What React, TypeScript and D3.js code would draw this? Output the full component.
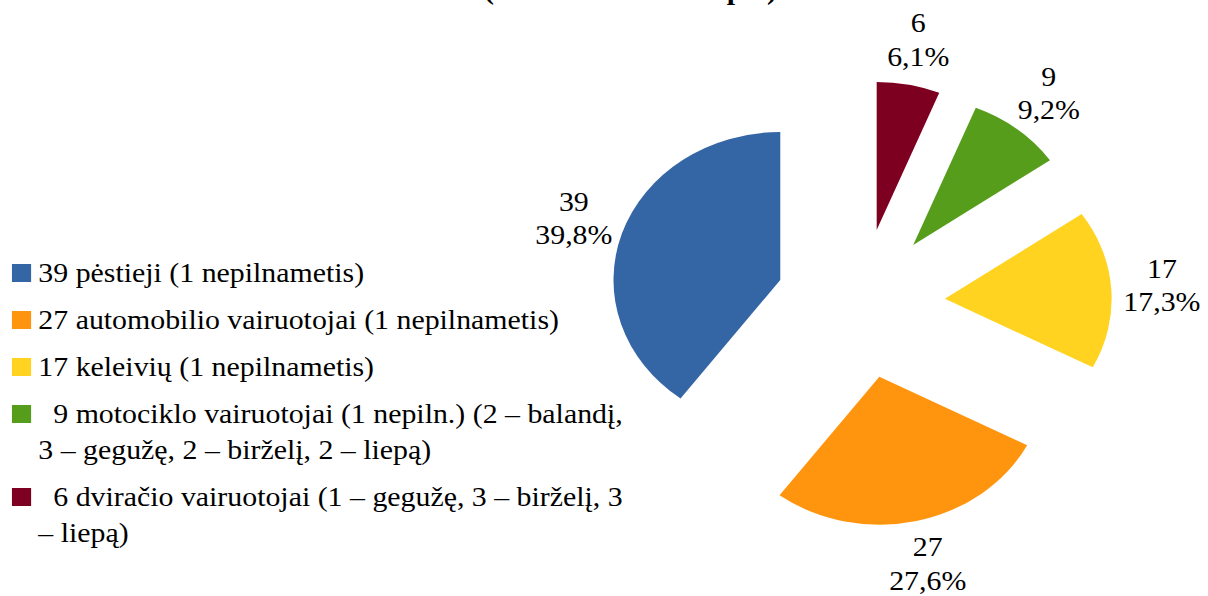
import React from 'react';
import * as d3 from 'd3';

// chart data (legend order)
const values = [39, 27, 17, 9, 6];
const colors = ['#3465A4', '#FF950E', '#FFD320', '#579D1C', '#7E0021'];
const legendLines = [
  ['39 pėstieji (1 nepilnametis)'],
  ['27 automobilio vairuotojai (1 nepilnametis)'],
  ['17 keleivių (1 nepilnametis)'],
  ['  9 motociklo vairuotojai (1 nepiln.) (2 – balandį,', '3 – gegužę, 2 – birželį, 2 – liepą)'],
  ['  6 dviračio vairuotojai (1 – gegužę, 3 – birželį, 3', '– liepą)'],
];
const titleText = '(balandis – liepa)';

const width = 1208;
const height = 596;
const stretchX = 1.127; // the whole picture is a bit wider than tall
const textStyle: React.CSSProperties = { fontFamily: "'Liberation Serif'", whiteSpace: 'pre' };

const App: React.FC = () => {
  const total = d3.sum(values);
  const fmtPct = (v: number) => ((v / total) * 100).toFixed(1).replace('.', ',') + '%';

  // pie
  const cx = 860.5 / stretchX;
  const cy = 303.6;
  const radius = 148;
  const explode = 75;
  const labelRadius = 268;

  const pie = d3.pie<number>()
    .value(i => values[i])
    .sort((a, b) => values[a] - values[b]);
  const arcs = pie(values.map((_, i) => i));
  const arc = d3.arc<d3.PieArcDatum<number>>().innerRadius(0).outerRadius(radius);
  const labelArc = d3.arc<d3.PieArcDatum<number>>().innerRadius(labelRadius).outerRadius(labelRadius);

  const mid = (a: d3.PieArcDatum<number>) => (a.startAngle + a.endAngle) / 2;

  // legend
  const legendX = 10.6;
  const textX = 34;
  const firstBaseline = 282;
  const entryGap = 47;
  const lineGap = 36;
  let y = firstBaseline;
  const legendRows = legendLines.map((lines, i) => {
    const row = { i, lines, y };
    y += entryGap + (lines.length - 1) * lineGap;
    return row;
  });

  return (
    <svg width={width} height={height}
      style={{ position: 'absolute', left: 0, top: 0, background: '#fff' }}>
      <g transform={`scale(${stretchX},1)`}>
        {/* second title line, mostly above the top edge */}
        <text x={559.5} y={-1.5} textAnchor="middle" fontWeight="bold" fontSize={26.5}
          textLength={260} lengthAdjust="spacing" style={textStyle}>{titleText}</text>

        <g transform={`translate(${cx},${cy})`}>
          {arcs.map(a => {
            const m = mid(a);
            const dx = explode * Math.sin(m);
            const dy = -explode * Math.cos(m);
            return (
              <path key={a.data} d={arc(a) || ''} fill={colors[a.data]}
                transform={`translate(${dx},${dy})`} />
            );
          })}
          {arcs.map(a => {
            const [lx, ly] = labelArc.centroid(a);
            return (
              <text key={'l' + a.data} x={lx} textAnchor="middle" fontSize={26.5} fill="#000" style={textStyle}>
                <tspan x={lx} y={ly - 8.5}>{values[a.data]}</tspan>
                <tspan x={lx} y={ly + 25}>{fmtPct(values[a.data])}</tspan>
              </text>
            );
          })}
        </g>

        <g>
          {legendRows.map(r => (
            <g key={r.i}>
              <rect x={legendX} y={r.y - 18} width={17} height={18} fill={colors[r.i]} />
              <text fontSize={26.5} fill="#000" style={textStyle}>
                {r.lines.map((l, k) => (
                  <tspan key={k} x={textX} y={r.y + k * lineGap}>{l}</tspan>
                ))}
              </text>
            </g>
          ))}
        </g>
      </g>
    </svg>
  );
};

export default App;
